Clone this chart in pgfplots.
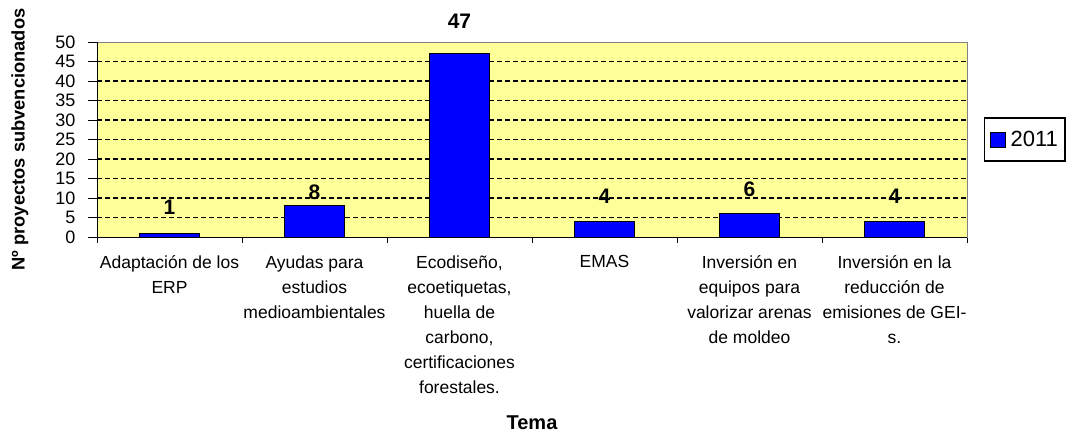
\documentclass[border=0pt]{standalone}
\usepackage{pgfplots}
\pgfplotsset{compat=1.18}
\usepackage{fontspec}
\setmainfont{Liberation Sans}
\definecolor{plotbg}{RGB}{255,255,153}
\begin{document}
\begin{tikzpicture}
\useasboundingbox (0,0) rectangle (1066pt,-434pt);
\begin{axis}[
  at={(97pt,-42pt)}, anchor=north west,
  scale only axis, width=870pt, height=195pt,
  xmin=-0.5, xmax=5.5, ymin=0, ymax=50,
  /pgf/number format/assume math mode=true,
  axis background/.style={fill=plotbg},
  axis line style={draw=gray, line width=1pt},
  xtick={0,1,2,3,4,5},
  xticklabels={{Adaptación de los\\ERP},{Ayudas para\\estudios\\medioambientales},{Ecodiseño,\\ecoetiquetas,\\huella de\\carbono,\\certificaciones\\forestales.},{EMAS},{Inversión en\\equipos para\\valorizar arenas\\de moldeo},{Inversión en la\\reducción de\\emisiones de GEI-\\s.}},
  minor xtick={-0.5,0.5,1.5,2.5,3.5,4.5,5.5},
  tick pos=left,
  tick align=outside,
  major tick length=9pt,
  minor tick length=6pt,
  x tick style={draw=none},
  minor x tick style={draw=black, line width=1pt},
  y tick style={draw=black, line width=1pt},
  ytick={0,5,...,50},
  extra y ticks={5,10,15,20,25,30,35,40,45},
  extra y tick labels={},
  extra y tick style={grid=major},
  major grid style={black, line width=1.4pt, dash pattern=on 4.5pt off 3.5pt},
  xticklabel style={font=\fontsize{17.5}{25}\selectfont, align=center, anchor=north, yshift=-6pt},
  yticklabel style={font=\fontsize{18}{18}\selectfont, xshift=-9pt},
  ylabel={Nº proyectos subvencionados},
  xlabel={Tema},
  every axis y label/.style={at={(rel axis cs:0,0.5)}, xshift=-77pt, rotate=90, anchor=center, font=\bfseries\fontsize{18.3}{22}\selectfont},
  every axis x label/.style={at={(rel axis cs:0.5,0)}, anchor=center, yshift=-186pt, font=\bfseries\fontsize{20}{22}\selectfont},
  legend style={at={(rel axis cs:1,0.5)}, anchor=west, xshift=17pt, draw=black, line width=1.3pt, font=\fontsize{22}{24}\selectfont, inner xsep=5pt, inner ysep=11pt},
  legend image code/.code={\draw[fill=blue, draw=black, line width=1pt] (0pt,-7.5pt) rectangle (15pt,7.5pt);},
  clip=false,
]
\addplot[ybar, fill=blue, draw=black, line width=1pt, bar width=0.407,
  visualization depends on={\thisrow{dy} \as \dy},
  nodes near coords,
  nodes near coords style={anchor=center, yshift=\dy*1pt, font=\bfseries\fontsize{21}{22}\selectfont, text=black}]
  table {
x y dy
0 1 26
1 8 14
2 47 32
3 4 25
4 6 24
5 4 25
};
\addlegendentry{\hspace{3pt}2011\hspace{8pt}}
\draw[black, line width=1pt] (rel axis cs:0,1) -- (rel axis cs:0,0) -- (rel axis cs:1,0);
\end{axis}
\end{tikzpicture}
\end{document}
